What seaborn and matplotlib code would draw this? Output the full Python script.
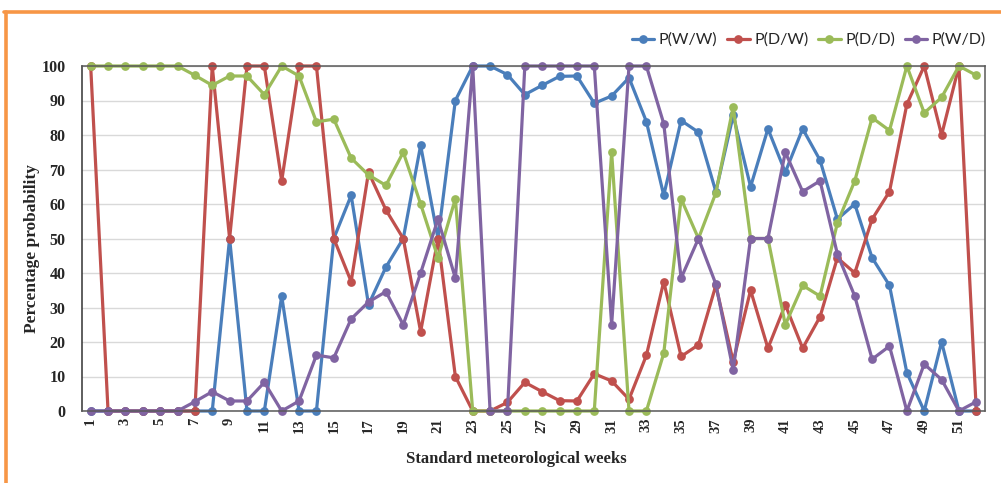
import numpy as np
import pandas as pd
import seaborn as sns
import matplotlib.pyplot as plt
from matplotlib.lines import Line2D

# Standard meteorological weeks
weeks = list(range(1, 53))

# Markov chain transition probabilities (%)
p_ww = [0, 0, 0, 0, 0, 0, 0, 0, 50, 0,
        0, 33.3, 0, 0, 50, 62.5, 30.8, 41.7, 50, 77.0,
        50, 90, 100, 100, 97.5, 91.7, 94.4, 97.0, 97.1, 89.2,
        91.3, 96.6, 83.9, 62.5, 84.2, 80.8, 63.6, 85.7, 65.0, 81.8,
        69.2, 81.8, 72.7, 55.6, 60.0, 44.4, 36.4, 11.1, 0, 20.0,
        0, 0]
p_dw = [100, 0, 0, 0, 0, 0, 0, 100, 50, 100,
        100, 66.7, 100, 100, 50, 37.5, 69.2, 58.3, 50, 23.0,
        50, 10, 0, 0, 2.5, 8.3, 5.6, 3.0, 2.9, 10.8,
        8.7, 3.4, 16.1, 37.5, 15.8, 19.2, 36.4, 14.3, 35.0, 18.2,
        30.8, 18.2, 27.3, 44.4, 40.0, 55.6, 63.6, 88.9, 100, 80.0,
        100, 0]
p_dd = [100, 100, 100, 100, 100, 100, 97.3, 94.4, 97.1, 97.1,
        91.7, 100, 97.1, 83.8, 84.6, 73.3, 68.4, 65.4, 75.0, 60.0,
        44.4, 61.5, 0, 0, 0, 0, 0, 0, 0, 0,
        75.0, 0, 0, 16.7, 61.5, 50.0, 63.2, 88.2, 50.0, 50.0,
        25.0, 36.4, 33.3, 54.5, 66.7, 85.0, 81.3, 100, 86.4, 90.9,
        100, 97.3]
p_wd = [0, 0, 0, 0, 0, 0, 2.7, 5.6, 2.9, 2.9,
        8.3, 0, 2.9, 16.2, 15.4, 26.7, 31.6, 34.6, 25.0, 40.0,
        55.6, 38.5, 100, 0, 0, 100, 100, 100, 100, 100,
        25.0, 100, 100, 83.3, 38.5, 50.0, 36.8, 11.8, 50.0, 50.0,
        75.0, 63.6, 66.7, 45.5, 33.3, 15.0, 18.8, 0, 13.6, 9.1,
        0, 2.7]

series_names = ["P(W/W)", "P(D/W)", "P(D/D)", "P(W/D)"]
series_values = [p_ww, p_dw, p_dd, p_wd]
colors = ["#4A7EBB", "#C0504D", "#9BBB59", "#8064A2"]

df = pd.DataFrame({
    "week": np.tile(weeks, len(series_names)),
    "prob": np.concatenate(series_values),
    "series": np.repeat(series_names, len(weeks)),
})

sns.set_theme(style="white")
plt.rcParams['font.family'] = ['Liberation Serif', 'DejaVu Serif']

W, H = 1001, 483
fig = plt.figure(figsize=(W / 100, H / 100), dpi=100)
ax = fig.add_axes([82 / W, 1 - 411 / H, 903 / W, 345 / H])

for name, col in zip(series_names, colors):
    sub = df[df["series"] == name]
    sns.lineplot(data=sub, x="week", y="prob", ax=ax, color=col,
                 marker="o", markersize=6.3, markeredgewidth=0,
                 linewidth=2.3, label=name, clip_on=False)

ax.set_xlim(0.5, 52.5)
ax.set_ylim(0, 100)
ax.set_yticks(range(0, 101, 10))
ax.set_yticklabels([str(v) for v in range(0, 101, 10)],
                   fontsize=11.5, fontweight="bold")
odd_weeks = weeks[::2]
ax.set_xticks(odd_weeks)
ax.set_xticklabels([str(w) for w in odd_weeks], rotation=90,
                   fontsize=10.5, fontweight="bold")
ax.tick_params(axis="y", length=0, pad=12)
ax.tick_params(axis="x", length=0, pad=5)

ax.yaxis.grid(True, color="#D9D9D9", linewidth=1)
ax.set_axisbelow(True)
for side, sp in ax.spines.items():
    sp.set_visible(True)
    sp.set_linewidth(1.1)
    sp.set_color("#595959")
ax.spines["left"].set_color("#333333")

ax.set_xlabel("Standard meteorological weeks", fontsize=12,
              fontweight="bold")
ax.set_ylabel("Percentage probability", fontsize=12.5, fontweight="bold")
ax.xaxis.set_label_coords(0.4806, -0.115)
ax.yaxis.set_label_coords(-0.047, 0.472)

handles, labels = ax.get_legend_handles_labels()
ax.get_legend().remove()
fig.legend(handles, labels, loc="center", ncol=4,
           bbox_to_anchor=(809 / W, 1 - 40 / H), frameon=False,
           prop={"family": "Lato", "size": 11.5},
           handlelength=1.4, handletextpad=0.3, columnspacing=0.6,
           borderaxespad=0)

# Orange frame along the top and left edges
orange = "#F79646"
fig.add_artist(Line2D([4 / W, 1], [1 - 12 / H, 1 - 12 / H],
                      transform=fig.transFigure, color=orange, lw=2.6))
fig.add_artist(Line2D([5.5 / W, 5.5 / W], [0, 1 - 12 / H],
                      transform=fig.transFigure, color=orange, lw=2.6))

fig.savefig("out.png", dpi=100)
